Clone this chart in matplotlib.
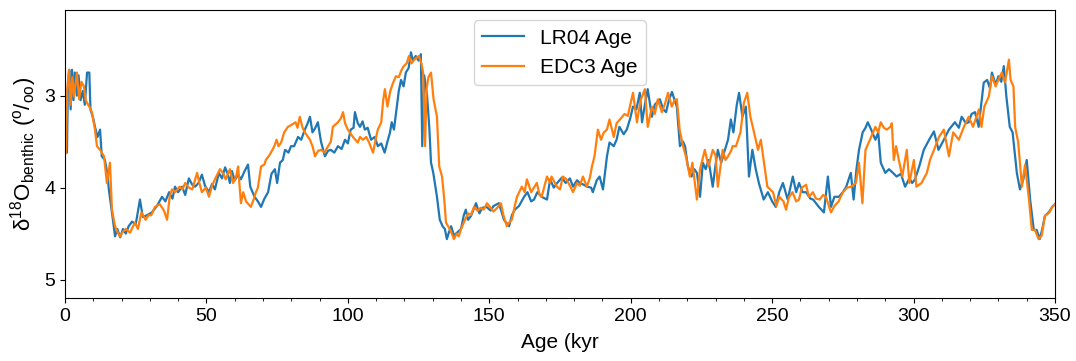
import numpy as np
import matplotlib
matplotlib.use("Agg")
import matplotlib.pyplot as plt
from matplotlib.ticker import MultipleLocator

plt.rcParams['font.family'] = ['Liberation Sans', 'DejaVu Sans']
plt.rcParams['mathtext.fontset'] = 'custom'
plt.rcParams['mathtext.rm'] = 'Liberation Sans'
plt.rcParams['mathtext.it'] = 'Liberation Sans:italic'

# benthic d18O stack, (age kyr, d18O permil)
lr04 = [
    (0.3, 3.62), (0.7, 3.62), (1.0, 2.95), (1.5, 2.72), (2.0, 3.15), (2.5, 2.72), (3.0, 3.05),
    (3.5, 2.75), (4.2, 3.0), (4.8, 2.78), (5.5, 3.05), (6.3, 2.95), (7.0, 3.10), (7.8, 2.75),
    (8.6, 2.75), (9.0, 3.15), (10.0, 3.25), (10.6, 3.34), (11.5, 3.45), (12.4, 3.37), (13.0, 3.66),
    (14.1, 3.70), (15.0, 3.85), (15.5, 4.02), (16.6, 4.27), (17.7, 4.53), (18.5, 4.45), (19.5, 4.54),
    (20.5, 4.45), (21.5, 4.50), (22.5, 4.42), (23.7, 4.37), (25.0, 4.40), (26.5, 4.13), (27.5, 4.32),
    (29.0, 4.30), (30.7, 4.27), (32.5, 4.20), (34.3, 4.10), (35.5, 4.15), (36.8, 4.05), (38.0, 4.12),
    (38.9, 3.99), (40.0, 4.05), (41.4, 3.99), (42.5, 4.08), (43.8, 3.90), (45.0, 3.97), (46.0, 3.99),
    (47.2, 3.95), (48.4, 3.86), (49.5, 3.98), (50.9, 4.05), (52.0, 3.96), (53.0, 4.02), (54.4, 3.84),
    (55.5, 3.90), (56.6, 3.78), (57.5, 3.85), (58.3, 3.95), (59.0, 3.82), (60.0, 3.92), (61.2, 3.86),
    (62.2, 3.91), (63.5, 3.82), (64.7, 3.75), (65.5, 3.99), (67.0, 4.10), (68.2, 4.15), (69.3, 4.21),
    (70.5, 4.12), (71.8, 4.05), (73.0, 3.85), (74.2, 3.80), (75.0, 3.95), (76.0, 3.73), (77.0, 3.70),
    (77.8, 3.59), (79.0, 3.62), (79.9, 3.55), (81.0, 3.55), (82.4, 3.45), (83.5, 3.48), (84.8, 3.37),
    (85.8, 3.30), (86.6, 3.23), (87.5, 3.40), (88.5, 3.35), (89.4, 3.29), (90.5, 3.50), (91.9, 3.66),
    (93.0, 3.60), (94.0, 3.59), (95.2, 3.62), (96.5, 3.55), (97.8, 3.58), (99.0, 3.48), (100.0, 3.52),
    (101.0, 3.37), (102.0, 3.35), (102.5, 3.18), (103.5, 3.30), (104.3, 3.34), (105.2, 3.28),
    (106.0, 3.37), (107.0, 3.35), (108.2, 3.48), (109.5, 3.45), (110.6, 3.55), (111.8, 3.52),
    (113.0, 3.62), (114.0, 3.50), (114.9, 3.40), (115.5, 3.29), (116.3, 3.37), (117.3, 3.12),
    (118.0, 2.95), (118.8, 2.83), (119.7, 2.90), (120.5, 2.75), (121.5, 2.70), (122.3, 2.53),
    (123.0, 2.62), (124.0, 2.57), (125.0, 2.62), (125.8, 2.55), (126.3, 3.55), (127.0, 2.78),
    (128.0, 3.00), (128.8, 3.35), (129.4, 3.73), (130.2, 3.84), (131.5, 4.10), (132.5, 4.35),
    (133.5, 4.42), (134.3, 4.45), (135.0, 4.56), (135.8, 4.48), (136.5, 4.42), (137.5, 4.52),
    (138.6, 4.49), (140.0, 4.45), (141.0, 4.30), (141.7, 4.24), (142.5, 4.35), (143.5, 4.31),
    (145.3, 4.17), (146.5, 4.28), (147.5, 4.22), (149.0, 4.21), (150.5, 4.25), (151.5, 4.20),
    (153.4, 4.17), (155.2, 4.35), (157.0, 4.42), (158.0, 4.30), (159.0, 4.24), (160.5, 4.20),
    (162.3, 4.10), (163.5, 4.05), (164.8, 4.15), (165.8, 4.13), (167.0, 4.05), (168.5, 4.10),
    (170.4, 4.13), (171.5, 3.91), (172.8, 4.00), (174.0, 3.95), (175.7, 3.89), (177.0, 3.95),
    (178.5, 3.90), (179.6, 3.99), (181.0, 3.92), (182.0, 3.95), (183.5, 3.97), (184.5, 3.99),
    (186.0, 4.00), (186.6, 4.05), (188.0, 3.92), (189.0, 3.88), (190.2, 4.02), (191.6, 3.66),
    (192.5, 3.51), (194.0, 3.55), (195.0, 3.48), (196.0, 3.34), (197.5, 3.42), (198.6, 3.37),
    (199.8, 3.25), (200.8, 3.12), (202.0, 3.15), (203.2, 2.97), (204.0, 3.29), (205.0, 3.10),
    (206.0, 2.93), (207.5, 3.23), (208.5, 3.10), (210.3, 3.04), (211.5, 3.15), (212.5, 3.18),
    (213.5, 3.05), (214.6, 2.96), (215.5, 3.05), (216.3, 3.12), (217.4, 3.55), (218.5, 3.50),
    (219.2, 3.55), (220.2, 3.77), (221.5, 3.88), (222.5, 3.80), (223.4, 3.84), (224.5, 4.10),
    (225.5, 3.73), (226.5, 3.80), (227.5, 3.70), (229.0, 3.99), (230.0, 3.75), (230.8, 3.59),
    (232.0, 3.73), (233.2, 3.60), (234.4, 3.48), (235.4, 3.26), (236.3, 3.40), (237.5, 3.10),
    (238.3, 2.97), (239.5, 3.23), (240.7, 3.12), (241.8, 3.88), (243.0, 3.59), (244.2, 3.80),
    (245.3, 3.95), (247.0, 4.13), (248.5, 4.05), (250.0, 4.15), (251.3, 4.21), (252.5, 4.05),
    (253.8, 3.95), (255.5, 4.13), (257.3, 3.88), (258.5, 4.05), (259.5, 3.95), (260.8, 4.05),
    (262.0, 4.05), (263.5, 4.12), (264.5, 4.13), (266.5, 4.21), (268.3, 4.27), (269.7, 3.88),
    (270.8, 4.21), (272.0, 4.10), (273.6, 4.10), (275.0, 4.05), (276.2, 3.99), (277.8, 3.84),
    (278.8, 4.13), (279.8, 3.80), (280.7, 3.59), (282.0, 3.40), (283.0, 3.35), (283.8, 3.29),
    (285.0, 3.37), (286.5, 3.48), (287.5, 3.40), (288.4, 3.73), (290.0, 3.84), (291.3, 3.80),
    (292.7, 3.84), (294.0, 3.88), (295.5, 3.85), (297.0, 3.99), (298.5, 3.90), (299.5, 3.95),
    (300.5, 3.91), (302.0, 3.77), (303.6, 3.59), (305.5, 3.48), (307.2, 3.39), (308.8, 3.59),
    (310.7, 3.48), (312.5, 3.37), (314.6, 3.29), (316.0, 3.35), (317.0, 3.23), (318.5, 3.30),
    (319.5, 3.29), (320.5, 3.20), (321.7, 3.18), (323.0, 3.34), (324.8, 2.86), (326.0, 2.83),
    (327.0, 2.92), (327.7, 2.75), (329.0, 2.88), (330.0, 2.79), (331.0, 2.85), (331.9, 2.68),
    (332.8, 3.01), (334.0, 3.34), (335.0, 3.40), (336.5, 3.84), (337.6, 4.02), (338.8, 3.91),
    (340.0, 3.70), (341.2, 4.13), (342.5, 4.46), (343.5, 4.46), (344.6, 4.56), (345.5, 4.45),
    (346.4, 4.31), (348.0, 4.26), (349.0, 4.21), (350.0, 4.18),
]

edc3 = [
    (0.3, 3.62), (0.8, 2.93), (1.4, 2.72), (2.0, 3.10), (2.6, 2.80), (3.2, 3.01), (4.2, 2.75),
    (5.0, 3.04), (5.8, 2.85), (6.7, 2.90), (7.3, 3.05), (7.8, 3.08), (8.6, 3.12), (9.5, 3.18),
    (10.6, 3.37), (11.3, 3.55), (12.4, 3.59), (13.8, 3.66), (14.8, 3.95), (15.9, 3.73), (16.6, 4.24),
    (17.7, 4.42), (18.5, 4.48), (19.4, 4.53), (20.5, 4.48), (21.5, 4.45), (23.0, 4.49), (24.7, 4.38),
    (25.8, 4.45), (27.0, 4.27), (28.5, 4.35), (29.5, 4.30), (30.5, 4.30), (31.8, 4.21), (33.5, 4.18),
    (35.0, 4.25), (36.1, 4.35), (37.0, 4.10), (37.8, 4.02), (39.0, 4.05), (40.5, 3.99), (41.5, 4.02),
    (42.5, 3.95), (43.8, 4.00), (45.0, 4.02), (46.7, 3.84), (47.5, 3.95), (48.4, 4.05), (49.8, 4.00),
    (50.9, 4.10), (52.0, 3.98), (53.0, 3.91), (54.8, 3.80), (56.0, 3.85), (56.8, 3.91), (58.3, 3.80),
    (59.4, 3.95), (60.5, 3.88), (61.2, 3.77), (62.2, 4.17), (63.0, 4.05), (64.0, 4.15), (65.7, 4.21),
    (66.8, 4.12), (67.5, 4.05), (68.2, 4.00), (69.3, 3.77), (70.5, 3.75), (71.0, 3.70), (72.0, 3.66),
    (72.8, 3.62), (74.0, 3.55), (74.8, 3.48), (75.5, 3.55), (76.4, 3.51), (77.5, 3.40), (78.8, 3.34),
    (80.0, 3.32), (81.5, 3.29), (82.2, 3.35), (83.0, 3.23), (84.0, 3.35), (84.8, 3.40), (86.6, 3.48),
    (87.5, 3.55), (88.4, 3.66), (89.5, 3.60), (90.6, 3.59), (91.8, 3.62), (93.0, 3.55), (94.0, 3.50),
    (94.7, 3.34), (96.5, 3.29), (97.5, 3.25), (98.3, 3.18), (99.0, 3.30), (100.0, 3.37), (101.8, 3.45),
    (103.5, 3.51), (104.3, 3.45), (105.3, 3.48), (106.5, 3.45), (107.5, 3.51), (108.9, 3.62),
    (110.0, 3.45), (110.6, 3.37), (111.8, 3.29), (112.5, 3.05), (113.1, 2.93), (114.0, 3.12),
    (115.0, 2.95), (116.0, 2.86), (117.0, 2.79), (118.0, 2.80), (119.0, 2.72), (119.8, 2.68),
    (120.8, 2.65), (121.6, 2.57), (122.5, 2.65), (123.5, 2.61), (125.1, 2.57), (126.0, 2.65),
    (126.6, 2.75), (127.3, 3.55), (127.8, 2.93), (128.5, 2.80), (129.4, 2.75), (130.3, 3.04),
    (131.5, 3.23), (132.3, 3.77), (133.3, 3.88), (134.0, 4.10), (134.7, 4.38), (136.0, 4.45),
    (136.6, 4.49), (137.5, 4.56), (138.5, 4.50), (139.2, 4.53), (140.0, 4.45), (141.0, 4.38),
    (142.5, 4.28), (143.5, 4.30), (144.6, 4.21), (145.8, 4.25), (147.0, 4.22), (148.0, 4.24),
    (149.2, 4.17), (150.5, 4.22), (151.5, 4.26), (152.8, 4.22), (154.1, 4.17), (155.0, 4.30),
    (156.2, 4.42), (157.5, 4.36), (158.0, 4.35), (159.0, 4.20), (159.8, 4.10), (161.5, 3.99),
    (162.5, 4.05), (163.3, 3.91), (164.8, 4.05), (166.8, 3.95), (167.8, 4.08), (168.5, 4.10),
    (170.4, 3.88), (171.5, 3.95), (172.0, 3.88), (173.9, 3.99), (175.0, 4.02), (176.0, 3.88),
    (177.3, 3.91), (178.5, 3.98), (179.6, 4.05), (181.0, 3.95), (182.0, 3.98), (183.1, 3.88),
    (184.5, 3.99), (185.5, 3.90), (186.3, 3.77), (187.2, 3.66), (188.4, 3.37), (189.5, 3.48),
    (190.5, 3.40), (191.6, 3.37), (192.5, 3.26), (194.0, 3.45), (195.0, 3.30), (196.2, 3.26),
    (197.8, 3.20), (199.0, 3.22), (199.7, 3.12), (200.8, 2.97), (202.2, 3.29), (203.5, 3.05),
    (205.0, 2.93), (206.0, 3.34), (207.5, 3.12), (208.5, 3.20), (209.6, 3.04), (211.0, 3.18),
    (212.0, 3.10), (213.2, 2.97), (214.5, 3.12), (215.5, 3.05), (216.3, 3.04), (217.3, 3.37),
    (218.5, 3.55), (219.5, 3.66), (220.9, 3.88), (221.8, 3.73), (223.4, 4.13), (224.5, 3.80),
    (226.2, 3.59), (227.5, 3.77), (229.0, 3.59), (230.0, 3.65), (230.8, 3.99), (232.5, 3.59),
    (233.5, 3.70), (234.4, 3.66), (235.5, 3.60), (236.0, 3.55), (237.2, 3.55), (238.8, 3.40),
    (240.0, 3.08), (241.2, 2.97), (242.3, 3.23), (243.6, 3.40), (245.0, 3.59), (246.0, 3.48),
    (247.0, 3.70), (248.3, 3.99), (250.3, 4.05), (251.5, 4.20), (252.5, 4.10), (254.0, 4.15),
    (254.9, 4.24), (256.0, 4.10), (257.2, 4.05), (258.5, 4.15), (259.5, 4.13), (260.5, 4.00),
    (262.0, 3.97), (263.0, 4.10), (264.4, 4.05), (265.5, 4.12), (266.8, 4.13), (268.0, 4.08),
    (269.0, 4.10), (270.8, 4.27), (272.0, 4.20), (273.5, 4.15), (275.0, 4.05), (276.5, 4.00),
    (278.0, 3.99), (279.6, 3.95), (280.7, 3.73), (281.9, 4.17), (283.0, 3.59), (285.0, 3.45),
    (286.5, 3.34), (287.5, 3.40), (288.4, 3.29), (289.5, 3.35), (290.5, 3.37), (291.8, 3.34),
    (292.3, 3.30), (293.0, 3.70), (293.8, 3.55), (294.8, 3.70), (296.0, 3.88), (297.6, 3.59),
    (298.5, 3.95), (300.1, 3.70), (301.0, 3.99), (302.8, 3.95), (304.7, 3.84), (305.8, 3.70),
    (307.2, 3.59), (309.0, 3.45), (310.7, 3.37), (312.5, 3.66), (314.0, 3.40), (316.0, 3.48),
    (317.8, 3.34), (319.5, 3.23), (321.0, 3.34), (323.1, 3.15), (324.0, 3.34), (325.0, 3.12),
    (326.6, 3.01), (327.7, 2.79), (329.0, 2.90), (329.5, 2.86), (331.2, 2.75), (332.3, 2.86),
    (333.7, 2.61), (334.3, 2.83), (335.3, 2.90), (335.9, 3.34), (337.0, 3.51), (338.3, 3.99),
    (339.4, 3.75), (340.8, 4.13), (341.8, 4.46), (342.9, 4.46), (344.2, 4.56), (345.3, 4.52),
    (346.4, 4.31), (348.0, 4.27), (349.0, 4.21), (350.0, 4.18),
]

lr04 = np.array(lr04)
edc3 = np.array(edc3)

fig = plt.figure(figsize=(10.76, 3.61), dpi=100)
ax = fig.add_axes([0.0604, 0.1745, 0.9201, 0.7978])

ax.plot(lr04[:, 0], lr04[:, 1], color='#1f77b4', lw=1.6, label='LR04 Age')
ax.plot(edc3[:, 0], edc3[:, 1], color='#ff7f0e', lw=1.6, label='EDC3 Age')

ax.set_xlim(0, 350)
ax.set_ylim(5.2, 2.07)
ax.set_yticks([3, 4, 5])
ax.xaxis.set_minor_locator(MultipleLocator(10))
ax.tick_params(labelsize=14)

ax.set_xlabel('Age (kyr', fontsize=15, labelpad=6)
ax.set_ylabel(r'δ$^{18}$O$_{\mathrm{benthic}}$ ($^{\mathrm{o}}$/$_{\mathrm{oo}}$)', fontsize=16)
ax.legend(loc='upper center', fontsize=15)

fig.savefig('out.png', dpi=100)
